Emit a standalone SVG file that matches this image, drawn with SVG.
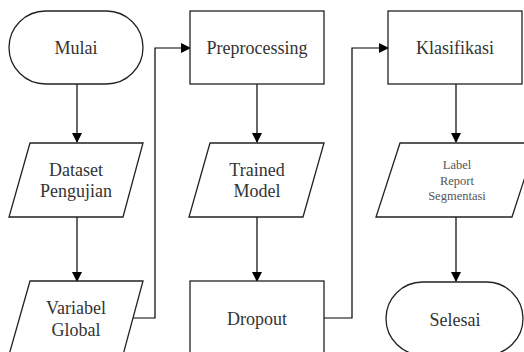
<svg xmlns="http://www.w3.org/2000/svg" width="524" height="352" viewBox="0 0 524 352">
<defs>
<marker id="ah" markerWidth="10" markerHeight="10" refX="9" refY="5" orient="auto" markerUnits="userSpaceOnUse">
<path d="M0,0 L10,5 L0,10 Z" fill="#000"/>
</marker>
<style>
.s{fill:#fff;stroke:#222;stroke-width:1.3}
.t{font-size:18px;fill:#333;text-anchor:middle}
.sm{font-size:12.5px;fill:#555;text-anchor:middle}
.c{fill:none;stroke:#000;stroke-width:1.2;marker-end:url(#ah)}
</style>
</defs>
<rect width="524" height="352" fill="#fff"/>
<g id="connectors">
<path class="c" d="M77,84 V142"/>
<path class="c" d="M77,217 V281"/>
<path class="c" d="M133,318 H155 V48 H190"/>
<path class="c" d="M257,84 V142"/>
<path class="c" d="M257,217 V281"/>
<path class="c" d="M324,318 H352 V48 H388"/>
<path class="c" d="M456,84 V142"/>
<path class="c" d="M456,217 V281"/>
</g>
<g font-family="'Liberation Serif', 'DejaVu Serif', 'Times New Roman', serif">
<g id="mulai">
<rect class="s" x="9" y="11" width="134" height="73" rx="36.5"/>
<text class="t" x="76" y="54">Mulai</text>
</g>
<g id="dataset">
<path class="s" d="M30,143 H143 L123,217 H9 Z"/>
<text class="t" x="76" y="176">Dataset</text>
<text class="t" x="76" y="197">Pengujian</text>
</g>
<g id="variabel">
<path class="s" d="M30,281 H143 L123,355 H9 Z"/>
<text class="t" x="76" y="314">Variabel</text>
<text class="t" x="76" y="336">Global</text>
</g>
<g id="preprocessing">
<rect class="s" x="190" y="11" width="134" height="73"/>
<text class="t" x="257" y="54">Preprocessing</text>
</g>
<g id="trained">
<path class="s" d="M210,143 H324 L303,217 H189 Z"/>
<text class="t" x="257" y="176">Trained</text>
<text class="t" x="257" y="197">Model</text>
</g>
<g id="dropout">
<rect class="s" x="190" y="281" width="134" height="80"/>
<text class="t" x="257" y="325">Dropout</text>
</g>
<g id="klasifikasi">
<rect class="s" x="388" y="11" width="134" height="73"/>
<text class="t" x="455" y="54">Klasifikasi</text>
</g>
<g id="label">
<path class="s" d="M400,143 H536 L512,217 H376 Z"/>
<text class="sm" x="457" y="169">Label</text>
<text class="sm" x="457" y="185">Report</text>
<text class="sm" x="457" y="200">Segmentasi</text>
</g>
<g id="selesai">
<rect class="s" x="386" y="282" width="137" height="73" rx="36.5"/>
<text class="t" x="455" y="326">Selesai</text>
</g>
</g>
</svg>
